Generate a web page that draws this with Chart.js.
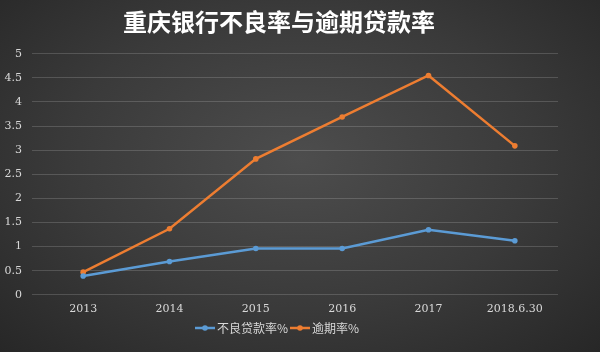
<!DOCTYPE html>
<html>
<head>
<meta charset="utf-8">
<script src="https://cdn.jsdelivr.net/npm/chart.js@4/dist/chart.umd.min.js"></script>
<style>
  html, body { margin: 0; padding: 0; }
  body {
    width: 600px; height: 352px; overflow: hidden;
    background: radial-gradient(ellipse at 50% 45%, #4d4d4d 0%, #3a3a3a 55%, #272727 100%);
  }
  #wrap { position: relative; width: 600px; height: 352px; }
</style>
</head>
<body>
<div id="wrap"><canvas id="c"></canvas></div>
<script>
const categories = ['2013', '2014', '2015', '2016', '2017', '2018.6.30'];
const nplRate = [0.39, 0.69, 0.96, 0.96, 1.35, 1.12];
const overdueRate = [0.47, 1.37, 2.82, 3.69, 4.55, 3.09];
const seriesNames = ['不良贷款率%', '逾期率%'];
const yTicks = [0, 0.5, 1, 1.5, 2, 2.5, 3, 3.5, 4, 4.5, 5];

const BLUE = '#5b9bd5';
const ORANGE = '#ed7d31';
const serif = 'DejaVu Serif';

// little "line with dot" marker for the legend, like the Excel one
function legendMarker(color) {
  const cv = document.createElement('canvas');
  cv.width = 20; cv.height = 8;
  const g = cv.getContext('2d');
  g.strokeStyle = color; g.lineWidth = 2.5;
  g.beginPath(); g.moveTo(0, 4); g.lineTo(20, 4); g.stroke();
  g.fillStyle = color;
  g.beginPath(); g.arc(10, 4, 2.8, 0, Math.PI * 2); g.fill();
  return cv;
}

const mk = (label, data, color) => ({
  label,
  data,
  borderColor: color,
  backgroundColor: color,
  borderWidth: 2.5,
  pointRadius: 2.8,
  pointBorderWidth: 0,
  pointStyle: 'circle',
  tension: 0
});

new Chart(document.getElementById('c'), {
  type: 'line',
  data: {
    labels: categories,
    datasets: [mk(seriesNames[0], nplRate, BLUE), mk(seriesNames[1], overdueRate, ORANGE)]
  },
  options: {
    responsive: true,
    maintainAspectRatio: false,
    animation: false,
    layout: { padding: { left: 0, right: 42, top: 0, bottom: 8 } },
    plugins: {
      title: {
        display: true,
        text: '重庆银行不良率与逾期贷款率',
        color: '#ffffff',
        font: { family: 'Noto Sans CJK SC', size: 24, weight: 'bold' },
        padding: { top: 7, bottom: 18 }
      },
      legend: {
        position: 'bottom',
        labels: {
          color: '#d8d8d8',
          font: { family: 'Noto Sans CJK SC', size: 12 },
          usePointStyle: true,
          padding: 6,
          generateLabels: chart => chart.data.datasets.map((ds, i) => ({
            text: ds.label,
            fontColor: '#d8d8d8',
            pointStyle: legendMarker(ds.borderColor),
            datasetIndex: i,
            hidden: false,
            lineWidth: 0
          }))
        }
      },
      tooltip: { enabled: false }
    },
    scales: {
      x: {
        offset: true,
        grid: { display: false },
        border: { display: false },
        ticks: { color: '#d8d8d8', font: { family: serif, size: 11 }, padding: 0 }
      },
      y: {
        min: 0, max: 5,
        afterBuildTicks: s => { s.ticks = yTicks.map(v => ({ value: v })); },
        afterFit: s => { s.width = 40; },
        grid: { color: 'rgba(255,255,255,0.16)', lineWidth: 1 },
        border: { display: false },
        ticks: {
          color: '#d8d8d8',
          font: { family: serif, size: 11 },
          padding: 10,
          callback: v => String(v)
        }
      }
    }
  }
});
</script>
</body>
</html>
